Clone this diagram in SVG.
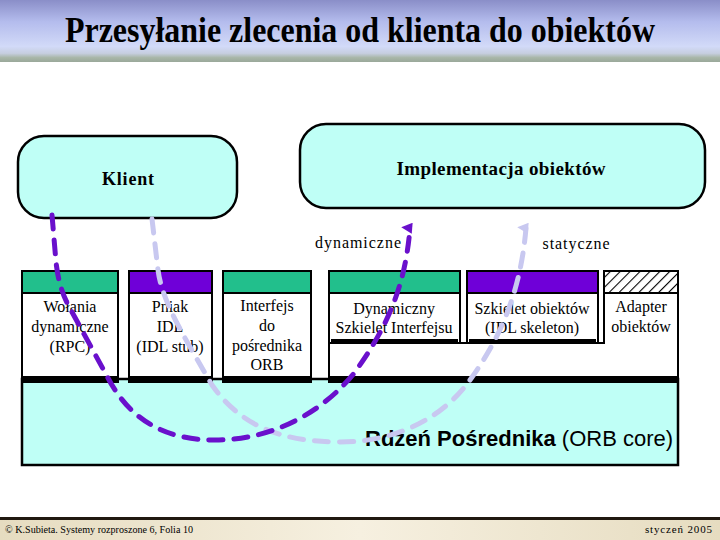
<svg xmlns="http://www.w3.org/2000/svg" width="720" height="540" viewBox="0 0 720 540">
<defs>
<linearGradient id="tg" x1="0" y1="0" x2="0" y2="1">
<stop offset="0" stop-color="#8a8ec8"/>
<stop offset="0.35" stop-color="#b4bced"/>
<stop offset="0.75" stop-color="#d2daf8"/>
<stop offset="0.86" stop-color="#c6cee0"/>
<stop offset="0.93" stop-color="#a8b6a8"/>
<stop offset="1" stop-color="#9aa89a"/>
</linearGradient>
<linearGradient id="fg" x1="0" y1="0" x2="1" y2="0">
<stop offset="0" stop-color="#e6dcc0"/>
<stop offset="0.5" stop-color="#f6f0e0"/>
<stop offset="1" stop-color="#e6dcc0"/>
</linearGradient>
<pattern id="hatch" width="7" height="7" patternUnits="userSpaceOnUse" patternTransform="rotate(45)">
<rect width="7" height="7" fill="#ffffff"/>
<line x1="0" y1="0" x2="0" y2="7" stroke="#000" stroke-width="2.2"/>
</pattern>
<marker id="ahD" viewBox="0 0 10 10" refX="5" refY="8" markerWidth="11" markerHeight="13" markerUnits="userSpaceOnUse" orient="auto-start-reverse">
<path d="M0,10 L5,0 L10,10 Z" fill="#6a10cc"/>
</marker>
<marker id="ahL" viewBox="0 0 10 10" refX="5" refY="8" markerWidth="11" markerHeight="13" markerUnits="userSpaceOnUse" orient="auto-start-reverse">
<path d="M0,10 L5,0 L10,10 Z" fill="#c8c8f0"/>
</marker>
<style>
.serif{font-family:"Liberation Serif","Times New Roman",serif;fill:#000}
.bt{font-size:16px;text-anchor:middle}
.box{fill:#ffffff;stroke:#000;stroke-width:2}
.green{fill:#22bf8c;stroke:#000;stroke-width:2}
.purple{fill:#6f00d8;stroke:#000;stroke-width:2}
.bar{fill:#000}
.cyan{fill:#bffff6;stroke:#000;stroke-width:2.5}
.dash{fill:none;stroke-width:5;stroke-dasharray:14 11;stroke-linecap:round}
</style>
</defs>
<rect width="720" height="540" fill="#ffffff"/>
<g id="title">
<rect x="0" y="0" width="720" height="62" fill="url(#tg)"/>
<text x="360" y="42" class="serif" font-size="35" font-weight="bold" text-anchor="middle" textLength="590" lengthAdjust="spacingAndGlyphs">Przesyłanie zlecenia od klienta do obiektów</text>
</g>
<g id="klient">
<rect x="18" y="136" width="219" height="82" rx="26" class="cyan"/>
<text x="128" y="185" class="serif" font-size="18" font-weight="bold" text-anchor="middle" textLength="52">Klient</text>
</g>
<g id="implementacja">
<rect x="300" y="124" width="405" height="84" rx="26" class="cyan"/>
<text x="501" y="175" class="serif" font-size="19" font-weight="bold" text-anchor="middle" textLength="209">Implementacja obiektów</text>
</g>
<g id="labels">
<text x="358" y="248" class="serif" font-size="16" text-anchor="middle" textLength="86">dynamiczne</text>
<text x="576" y="249" class="serif" font-size="16" text-anchor="middle" textLength="67">statyczne</text>
</g>
<g id="core">
<rect x="22" y="379" width="656" height="86" class="cyan" stroke-width="2"/>
<text x="365" y="446" font-family="Liberation Sans, Arial, sans-serif" font-size="22"><tspan font-weight="bold">Rdzeń Pośrednika</tspan> (ORB core)</text>
</g>
<g id="wolania">
<rect x="22" y="271" width="96" height="111" class="box"/>
<rect x="22" y="271" width="96" height="22" class="green"/>
<rect x="23" y="376" width="94" height="6" class="bar"/>
<text class="serif bt"><tspan x="70" y="312">Wołania</tspan><tspan x="70" y="332">dynamiczne</tspan><tspan x="70" y="352">(RPC)</tspan></text>
</g>
<g id="pniak">
<rect x="129" y="271" width="83" height="111" class="box"/>
<rect x="129" y="271" width="83" height="22" class="purple"/>
<rect x="130" y="376" width="81" height="6" class="bar"/>
<text class="serif bt"><tspan x="170" y="312">Pniak</tspan><tspan x="170" y="332">IDL</tspan><tspan x="170" y="352">(IDL stub)</tspan></text>
</g>
<g id="interfejs">
<rect x="223" y="271" width="88" height="111" class="box"/>
<rect x="223" y="271" width="88" height="22" class="green"/>
<rect x="224" y="376" width="86" height="6" class="bar"/>
<text class="serif bt"><tspan x="267" y="311">Interfejs</tspan><tspan x="267" y="331">do</tspan><tspan x="267" y="351">pośrednika</tspan><tspan x="267" y="370">ORB</tspan></text>
</g>
<g id="adapter">
<path d="M329,343 L604,343 L604,271 L678,271 L678,382 L329,382 Z" class="box"/>
<rect x="604" y="271" width="74" height="22" fill="url(#hatch)" stroke="#000" stroke-width="2"/>
<rect x="330" y="376" width="347" height="6" class="bar"/>
<text class="serif bt"><tspan x="641" y="312">Adapter</tspan><tspan x="641" y="332">obiektów</tspan></text>
</g>
<g id="dynszkielet">
<rect x="329" y="271" width="131" height="72" class="box"/>
<rect x="329" y="271" width="131" height="22" class="green"/>
<rect x="331" y="339" width="127" height="5" class="bar"/>
<text class="serif bt"><tspan x="394" y="314">Dynamiczny</tspan><tspan x="394" y="333">Szkielet Interfejsu</tspan></text>
</g>
<g id="szkielet">
<rect x="467" y="271" width="131" height="72" class="box"/>
<rect x="467" y="271" width="131" height="22" class="purple"/>
<rect x="469" y="339" width="127" height="5" class="bar"/>
<text class="serif bt"><tspan x="532" y="314">Szkielet obiektów</tspan><tspan x="532" y="333">(IDL skeleton)</tspan></text>
</g>
<g id="connectors">
<path d="M152,219 L158,270 C162,300 180,330 212,385 C240,425 280,442 340,442 C400,442 445,415 470,380 C495,345 520,300 526,228" class="dash" stroke="#c8c8f0" marker-end="url(#ahL)"/>
<path d="M52,215 L56,262 C58,280 62,295 72,312 L108,378 C130,420 165,440 215,440 C275,440 325,410 355,372 C385,330 405,290 410,228" class="dash" stroke="#6a10cc" marker-end="url(#ahD)"/>
</g>
<g id="footer">
<rect x="0" y="517" width="720" height="3" fill="#201810"/>
<rect x="0" y="520" width="720" height="20" fill="url(#fg)"/>
<text x="5" y="533" class="serif" font-size="10" textLength="188" lengthAdjust="spacingAndGlyphs">© K.Subieta. Systemy rozproszone 6, Folia 10</text>
<text x="712" y="533" class="serif" font-size="11" text-anchor="end" textLength="67" lengthAdjust="spacing">styczeń 2005</text>
</g>
</svg>
